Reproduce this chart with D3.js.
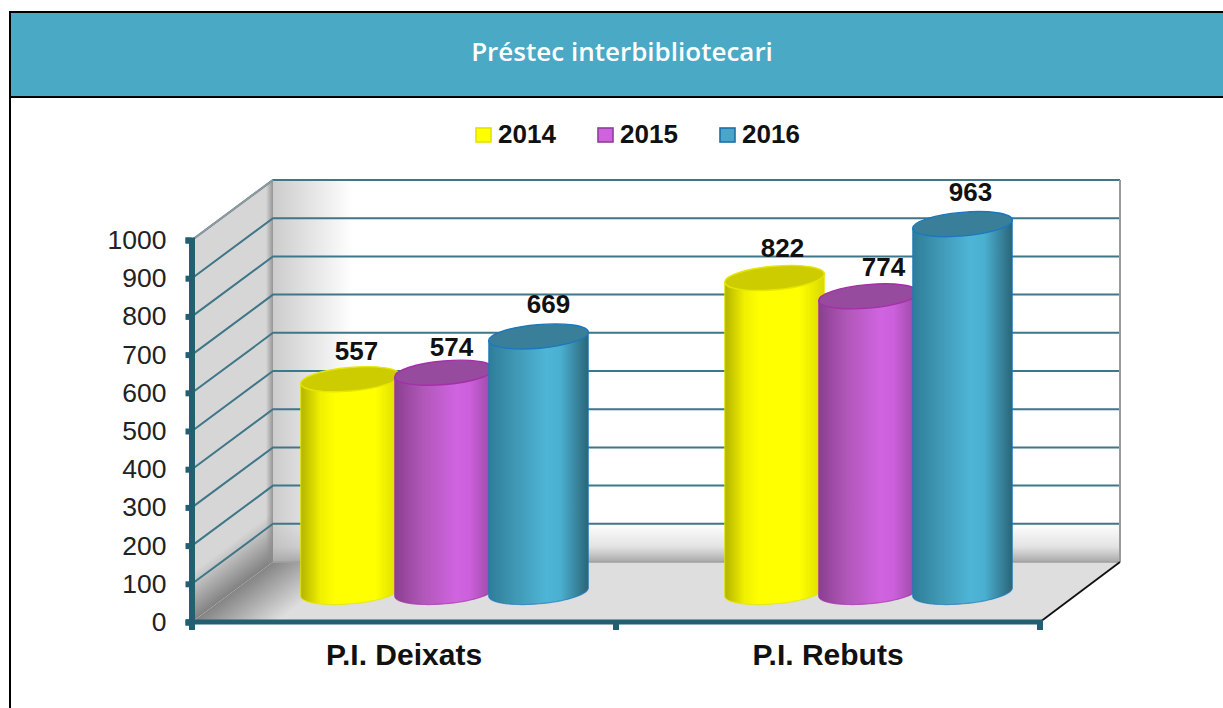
<!DOCTYPE html>
<html><head><meta charset="utf-8">
<script src="https://cdnjs.cloudflare.com/ajax/libs/d3/7.8.5/d3.min.js"></script>
<style>html,body{margin:0;padding:0;background:#fff;overflow:hidden}svg{display:block}</style>
</head><body><svg id="c" width="1223" height="708"></svg>
<script>
const titleText = "Préstec interbibliotecari";
const categories = ["P.I. Deixats", "P.I. Rebuts"];
const seriesNames = ["2014", "2015", "2016"];
const values2014 = [557, 822];
const values2015 = [574, 774];
const values2016 = [669, 963];
const yTicks = [0,100,200,300,400,500,600,700,800,900,1000];
const seriesValues = [values2014, values2015, values2016];

const palette = [
 {stops:["#b3b300","#f0f000","#ffff00","#ffff00","#d8d800"], at:["0%","20%","35%","75%","100%"], top:"#cccc00", rim:"#e6e600"},
 {stops:["#8a3f90","#b057b8","#d064e0","#cc60dc","#96479e"], at:["0%","28%","62%","75%","100%"], top:"#964b9e", rim:"#a52fa8"},
 {stops:["#2e7d99","#4099b5","#4fb5d6","#4ab0d0","#2a6478"], at:["0%","28%","58%","72%","100%"], top:"#3a7f99", rim:"#1b78bd"}
];
const teal = "#235f70", grid = "#3f7688";
const depthX = 81, depthY = -60, rx = 50, ry = 11.8, tilt = -5;
// hand-placed label nudges of the original, per category / series
const labelDx = [[6,7,10],[8,15,8]], labelDy = [[-19,-17,-23],[-21,-20,-23]];

const svg = d3.select("#c"), defs = svg.append("defs");
function lin(id, x1,y1,x2,y2, stops){
  const g = defs.append("linearGradient").attr("id",id).attr("gradientUnits","userSpaceOnUse")
    .attr("x1",x1).attr("y1",y1).attr("x2",x2).attr("y2",y2);
  stops.forEach(s=>g.append("stop").attr("offset",s[0]).attr("stop-color",s[1]).attr("stop-opacity",s[2]===undefined?1:s[2]));
}

// header
svg.append("rect").attr("x",10).attr("y",12).attr("width",1213).attr("height",85).attr("fill","#4aa9c5");
svg.append("path").attr("d","M1223 12H10V708M10 97H1223").attr("fill","none").attr("stroke","#000").attr("stroke-width",2);
svg.append("text").attr("x",622).attr("y",61).attr("text-anchor","middle")
  .attr("font-family","Open Sans").attr("font-weight",600).attr("font-size",26).attr("fill","#fff").text(titleText);

// scales
const y = d3.scaleLinear().domain([0,1000]).range([622,240]);
const x = d3.scaleBand().domain(categories).range([192,1040]);
const xs = d3.scaleBand().domain(seriesNames).range([-141,141]);
const left = x.range()[0], right = x.range()[1];

// walls
lin("wallH",273,0,353,0,[["0","#cccccc"],["1","#ffffff"]]);
lin("wallV",0,523,0,562,[["0","#b0b0b0",0],["0.6","#b0b0b0",0.35],["1","#a8a8a8",1]]);
lin("edgeH",266,0,274,0,[["0","#8c8c8c",0],["1","#8c8c8c",1]]);
lin("sideShade",273,562,249,530,[["0","#808080",1],["1","#808080",0]]);
lin("floorShade",273,562,303,602,[["0","#858585",1],["1","#858585",0]]);
const pts = a=>a.map(p=>p.join(",")).join(" ");
const bx = left+depthX, bxr = right+depthX-1;
svg.append("rect").attr("x",bx).attr("y",y(1000)+depthY).attr("width",bxr-bx).attr("height",y(0)-y(1000)).attr("fill","url(#wallH)");
svg.append("rect").attr("x",bx).attr("y",523).attr("width",bxr-bx).attr("height",39).attr("fill","url(#wallV)");
const sidePoly = pts([[left,y(1000)],[bx,y(1000)+depthY],[bx,y(0)+depthY],[left,y(0)]]);
svg.append("polygon").attr("points",sidePoly).attr("fill","#d6d6d6");
svg.append("polygon").attr("points",sidePoly).attr("fill","url(#sideShade)");
svg.append("polygon").attr("points",sidePoly).attr("fill","url(#edgeH)");
const floorPoly = pts([[left,y(0)],[right,y(0)],[bxr,y(0)+depthY],[bx,y(0)+depthY]]);
svg.append("polygon").attr("points",floorPoly).attr("fill","#dedede");
svg.append("polygon").attr("points",floorPoly).attr("fill","url(#floorShade)");

// grid
yTicks.forEach(t=>{
  if(t===0) return;
  svg.append("path").attr("d",`M${left} ${y(t)}L${bx} ${y(t)+depthY}H${bxr}`)
    .attr("fill","none").attr("stroke",grid).attr("stroke-width",2);
});
svg.append("line").attr("x1",left).attr("y1",y(1000)).attr("x2",bx).attr("y2",y(1000)+depthY).attr("stroke","#8f9a9e").attr("stroke-width",2);
svg.append("line").attr("x1",bxr).attr("y1",y(1000)+depthY).attr("x2",bxr).attr("y2",y(0)+depthY).attr("stroke","#9a9a9a").attr("stroke-width",2);
svg.append("line").attr("x1",bx).attr("y1",y(0)+depthY).attr("x2",bxr).attr("y2",y(0)+depthY).attr("stroke","#a0a0a0").attr("stroke-width",1.5);
svg.append("line").attr("x1",right).attr("y1",y(0)).attr("x2",bxr).attr("y2",y(0)+depthY).attr("stroke","#111").attr("stroke-width",1.8);

// cylinders
const rad = tilt*Math.PI/180;
const ell = (cx,cy,t)=>[cx+rx*Math.cos(t)*Math.cos(rad)-ry*Math.sin(t)*Math.sin(rad),
                        cy+rx*Math.cos(t)*Math.sin(rad)+ry*Math.sin(t)*Math.cos(rad)];
const angles = d3.range(0,37).map(i=>Math.PI*i/36);
const lineGen = d3.line();
categories.forEach((cat,ci)=>{
  const cx0 = x(cat)+x.bandwidth()/2+depthX/2;
  seriesNames.forEach((s,si)=>{
    const v = seriesValues[si][ci], p = palette[si];
    const cx = cx0+xs(s)+xs.bandwidth()/2, base = y(0)+depthY/2, top = y(v)+depthY/2;
    const id = `cyl${ci}${si}`;
    const g = defs.append("linearGradient").attr("id",id).attr("gradientUnits","userSpaceOnUse")
      .attr("x1",cx-rx).attr("x2",cx+rx).attr("y1",0).attr("y2",0);
    p.stops.forEach((c,i)=>g.append("stop").attr("offset",p.at[i]).attr("stop-color",c));
    const outline = [ell(cx,top,0)].concat(angles.map(t=>ell(cx,base,t))).concat([ell(cx,top,Math.PI)]);
    svg.append("path").attr("d",lineGen(outline)+"Z").attr("fill",`url(#${id})`);
    svg.append("path").attr("d",lineGen(outline)).attr("fill","none")
      .attr("stroke",p.rim).attr("stroke-width",1.2).attr("stroke-opacity",0.7);
    svg.append("ellipse").attr("cx",0).attr("cy",0).attr("rx",rx).attr("ry",ry)
      .attr("transform",`translate(${cx},${top}) rotate(${tilt})`)
      .attr("fill",p.top).attr("stroke",p.rim).attr("stroke-width",1.4);
    svg.append("text").attr("x",cx+labelDx[ci][si]).attr("y",top+labelDy[ci][si]).attr("text-anchor","middle")
      .attr("font-family","Liberation Sans").attr("font-weight",700).attr("font-size",26).attr("fill","#111").text(v);
  });
});

// axes
const yAxis = svg.append("g").attr("transform","translate(191.5,0)")
  .call(d3.axisLeft(y).tickValues(yTicks).tickSize(6).tickPadding(19).tickFormat(d3.format("d")));
yAxis.select(".domain").attr("stroke",teal).attr("stroke-width",6);
yAxis.selectAll(".tick line").attr("stroke",teal).attr("stroke-width",6);
yAxis.selectAll(".tick text").attr("font-family","Liberation Sans").attr("font-size",26.5).attr("fill","#222");
const xAxis = svg.append("g").attr("transform",`translate(0,${y(0)})`)
  .call(d3.axisBottom(x).tickSize(0).tickPadding(22));
xAxis.select(".domain").attr("d",`M186 0H1043`).attr("stroke",teal).attr("stroke-width",5);
xAxis.selectAll(".tick text").attr("font-family","Liberation Sans").attr("font-weight",700).attr("font-size",30).attr("fill","#111");
[left,left+x.step(),right].forEach(e=>{
  svg.append("line").attr("x1",e).attr("x2",e).attr("y1",y(0)).attr("y2",y(0)+8).attr("stroke",teal).attr("stroke-width",6);
});

// legend
const lx = d3.scalePoint().domain(seriesNames).range([475,719]);
seriesNames.forEach((s,i)=>{
  svg.append("rect").attr("x",lx(s)+1).attr("y",128).attr("width",15).attr("height",14)
    .attr("fill",["#ffff00","#cf62dd","#4aa6c8"][i]).attr("stroke",["#e3e300","#8e3f96","#1b6fae"][i]).attr("stroke-width",1.6);
  svg.append("text").attr("x",lx(s)+23).attr("y",143).attr("font-family","Liberation Sans").attr("font-weight",700)
    .attr("font-size",26).attr("fill","#111").text(s);
});
</script></body></html>
